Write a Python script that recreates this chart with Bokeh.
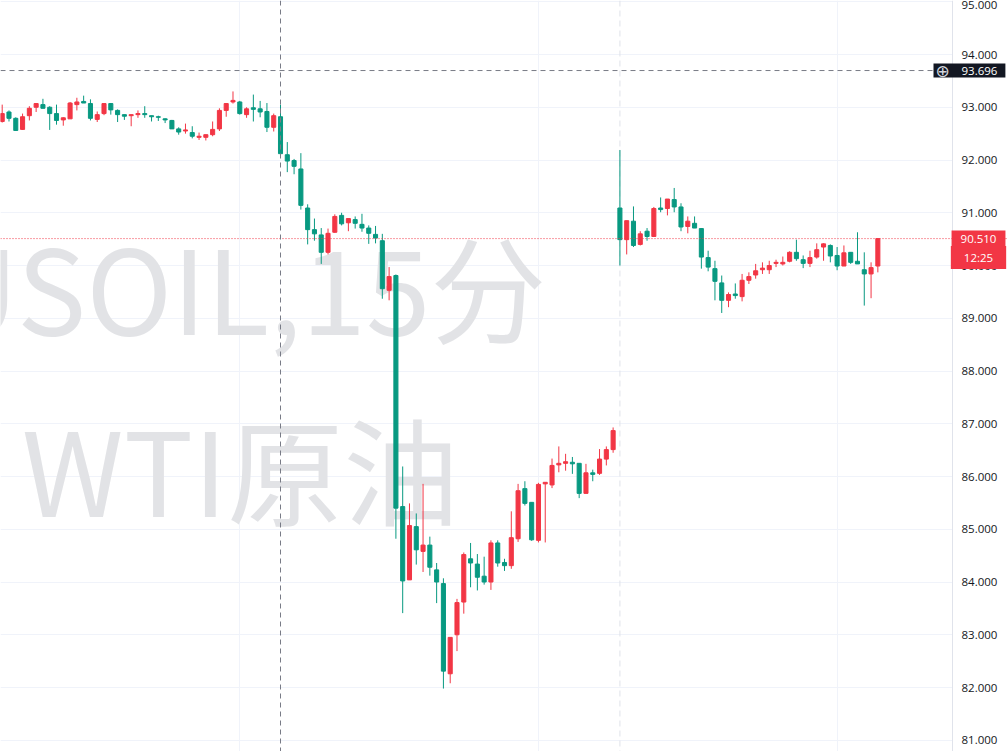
from bokeh.plotting import figure
from bokeh.models import Span, Label, FixedTicker, Range1d, PrintfTickFormatter, ColumnDataSource, BoxAnnotation
from bokeh.embed import file_html
from bokeh.resources import INLINE

# ---------------- data (USOIL 15-minute candles) ----------------
opens = [92.73, 92.91, 92.79, 92.58, 92.84, 93.00, 93.05, 93.00, 92.88, 92.76,
         92.78, 93.05, 93.11, 93.07, 92.77, 92.88, 93.07, 92.94, 92.86, 92.84,
         92.86, 92.88, 92.84, 92.82, 92.78, 92.75, 92.59, 92.55, 92.52, 92.43,
         92.43, 92.48, 92.59, 92.94, 93.10, 93.10, 92.86, 92.99, 92.97, 92.92,
         92.62, 92.82, 92.10, 91.99, 91.83, 91.09, 90.68, 90.58, 90.25, 90.63,
         90.95, 90.81, 90.87, 90.78, 90.71, 90.59, 90.47, 89.53, 89.81, 85.43,
         84.04, 85.05, 84.58, 84.70, 84.23, 83.97, 82.26, 83.00, 83.62, 84.44,
         84.34, 84.11, 84.00, 84.74, 84.37, 84.31, 84.82, 85.77, 85.51, 84.79,
         85.86, 85.84, 86.22, 86.25, 86.27, 86.25, 85.68, 86.07, 86.06, 86.33,
         86.51, 91.09, 90.49, 90.84, 90.40, 90.65, 90.55, 91.09, 91.08, 91.25,
         91.11, 90.74, 90.80, 90.70, 90.15, 89.94, 89.67, 89.34, 89.46, 89.41,
         89.72, 89.82, 89.92, 89.92, 90.04, 90.03, 90.08, 90.25, 90.11, 90.04,
         90.16, 90.35, 90.38, 90.19, 89.99, 90.25, 90.08, 89.92, 89.84, 89.99]
highs = [93.05, 92.94, 92.81, 92.88, 93.02, 93.08, 93.16, 93.02, 93.05, 92.81,
         93.10, 93.18, 93.22, 93.15, 92.92, 93.08, 93.08, 92.96, 92.86, 92.86,
         92.94, 93.02, 92.84, 92.84, 92.79, 92.76, 92.62, 92.69, 92.64, 92.52,
         92.48, 92.73, 92.98, 93.08, 93.30, 93.12, 93.00, 93.24, 93.12, 93.08,
         92.88, 93.05, 92.34, 92.02, 92.13, 91.16, 90.89, 90.71, 90.70, 90.97,
         91.00, 90.89, 90.93, 90.98, 90.76, 90.75, 90.60, 89.97, 89.83, 86.19,
         85.49, 85.30, 85.86, 84.86, 84.36, 84.07, 82.95, 83.68, 84.56, 84.74,
         84.53, 84.48, 84.79, 84.79, 84.44, 85.34, 85.86, 85.91, 85.51, 85.88,
         85.89, 86.34, 86.57, 86.43, 86.37, 86.25, 86.24, 86.13, 86.52, 86.57,
         86.93, 92.19, 90.85, 91.12, 90.65, 90.71, 91.11, 91.29, 91.26, 91.47,
         91.18, 90.93, 90.93, 90.71, 90.28, 90.09, 89.81, 89.49, 89.66, 89.84,
         89.87, 90.03, 90.06, 90.09, 90.11, 90.17, 90.27, 90.49, 90.19, 90.28,
         90.42, 90.42, 90.40, 90.35, 90.38, 90.25, 90.63, 90.25, 90.06, 90.51]
lows = [92.71, 92.73, 92.55, 92.57, 92.75, 92.91, 92.98, 92.57, 92.67, 92.65,
        92.78, 92.94, 93.08, 92.75, 92.72, 92.85, 92.86, 92.72, 92.76, 92.64,
        92.80, 92.80, 92.73, 92.74, 92.70, 92.59, 92.48, 92.50, 92.41, 92.38,
        92.37, 92.45, 92.55, 92.82, 93.07, 92.86, 92.80, 92.73, 92.81, 92.53,
        92.54, 92.10, 91.77, 91.73, 91.06, 90.40, 90.47, 90.03, 90.21, 90.62,
        90.76, 90.65, 90.70, 90.64, 90.41, 90.42, 89.37, 89.34, 84.82, 83.41,
        84.04, 84.33, 84.19, 84.12, 83.60, 81.98, 82.08, 82.69, 83.40, 83.90,
        83.84, 83.95, 83.85, 84.29, 84.21, 84.25, 84.76, 85.45, 84.78, 84.75,
        84.75, 85.78, 86.08, 86.11, 86.05, 85.59, 85.68, 85.91, 86.03, 86.21,
        86.45, 90.00, 90.21, 90.35, 90.38, 90.47, 90.54, 91.01, 90.95, 91.01,
        90.65, 90.61, 90.71, 89.94, 89.89, 89.34, 89.10, 89.21, 89.37, 89.32,
        89.65, 89.75, 89.84, 89.84, 89.97, 90.00, 90.06, 90.09, 89.95, 89.97,
        90.13, 90.09, 90.06, 89.91, 89.99, 90.03, 90.03, 89.24, 89.38, 89.87]
closes = [92.88, 92.79, 92.56, 92.82, 92.98, 93.07, 92.98, 92.88, 92.75, 92.80,
          93.08, 93.10, 93.08, 92.79, 92.86, 93.07, 92.95, 92.86, 92.83, 92.86,
          92.88, 92.86, 92.82, 92.81, 92.76, 92.59, 92.53, 92.57, 92.45, 92.45,
          92.48, 92.58, 92.94, 93.07, 93.13, 92.88, 92.97, 92.96, 92.91, 92.62,
          92.84, 92.12, 91.98, 91.88, 91.14, 90.68, 90.60, 90.25, 90.61, 90.93,
          90.79, 90.89, 90.80, 90.71, 90.61, 90.52, 89.56, 89.79, 85.40, 84.02,
          85.07, 84.61, 84.70, 84.28, 84.00, 82.31, 82.95, 83.61, 84.52, 84.36,
          84.09, 84.00, 84.74, 84.36, 84.31, 84.84, 85.73, 85.49, 84.80, 85.85,
          85.89, 86.21, 86.25, 86.28, 86.24, 85.68, 86.07, 86.04, 86.33, 86.51,
          86.87, 90.49, 90.85, 90.38, 90.60, 90.55, 91.08, 91.06, 91.26, 91.11,
          90.73, 90.84, 90.71, 90.16, 89.97, 89.70, 89.34, 89.45, 89.43, 89.72,
          89.79, 89.90, 89.95, 90.00, 90.06, 90.06, 90.25, 90.13, 90.04, 90.15,
          90.30, 90.41, 90.18, 89.99, 90.24, 90.06, 90.03, 89.84, 89.96, 90.51]

price_ticks = list(range(81, 96))
time_grid_idx = [35, 79, 123]
session_break_idx = 91
cross_idx = 41
cross_price = 93.696
last_price = 90.510
countdown = "12:25"
watermark_lines = ["USOIL,15分", "WTI原油"]

UP = "#f23645"
DOWN = "#089981"

# ---------------- pixel calibration (page coordinates) ----------------
X0_PX, DX_PX = 1.7, 6.788          # candle 0 centre, candle spacing
Y_REF_PRICE, Y_REF_PX, PPU = 94.0, 54.0, 52.75
W, H = 1007, 751
SCALE_X = 952                       # left edge of the price scale


def px_to_idx(px):
    return (px - X0_PX) / DX_PX


def px_to_price(py):
    return Y_REF_PRICE - (py - Y_REF_PX) / PPU


idx = list(range(len(opens)))
colors = [UP if c >= o else DOWN for o, c in zip(opens, closes)]
src = ColumnDataSource(dict(
    x=idx, o=opens, h=highs, l=lows, c=closes, color=colors,
    top=[max(o, c) for o, c in zip(opens, closes)],
    bottom=[min(o, c) for o, c in zip(opens, closes)],
))

p = figure(
    frame_width=W, frame_height=H,
    x_range=Range1d(px_to_idx(0), px_to_idx(W)),
    y_range=Range1d(px_to_price(H), px_to_price(0)),
    x_axis_location=None, y_axis_location="right",
    min_border_left=0, min_border_top=0, min_border_bottom=0, min_border_right=0,
    output_backend="svg", toolbar_location=None,
    background_fill_color="white", border_fill_color="white",
)
p.outline_line_color = None

# grids
p.ygrid.ticker = FixedTicker(ticks=price_ticks)
p.ygrid.grid_line_color = "#f0f3fa"
p.xgrid.ticker = FixedTicker(ticks=time_grid_idx)
p.xgrid.grid_line_color = "#f0f3fa"

# price scale background (hides grid inside scale area)
p.add_layout(BoxAnnotation(left=px_to_idx(SCALE_X), fill_color="white", fill_alpha=1.0,
                           line_color=None, level="glyph"))

# price axis, pinned at the scale edge
ax = p.yaxis[0]
ax.fixed_location = px_to_idx(SCALE_X)
ax.ticker = FixedTicker(ticks=price_ticks)
ax.formatter = PrintfTickFormatter(format="%.3f")
ax.major_tick_line_color = None
ax.minor_tick_line_color = None
ax.major_tick_in = 0
ax.major_tick_out = 0
ax.axis_line_color = "#e0e3eb"
ax.major_label_text_color = "#131722"
ax.major_label_text_font = "Open Sans"
ax.major_label_text_font_size = "11.5px"
ax.major_label_standoff = 9

# watermark
wm_x = px_to_idx(240)
for line, anchor_px in zip(watermark_lines, [283, 465]):
    p.add_layout(Label(x=wm_x, y=px_to_price(anchor_px), text=line,
                       text_align="center", text_baseline="alphabetic",
                       text_font="Noto Sans CJK SC", text_font_size="116px",
                       text_color="#e2e3e6", level="underlay"))

# session break
p.add_layout(Span(location=session_break_idx, dimension="height",
                  line_color="#dfe2ea", line_dash="6 4", line_width=1, level="underlay"))

# candles
p.segment(x0="x", y0="h", x1="x", y1="l", color="color", line_width=1, source=src)
p.vbar(x="x", top="top", bottom="bottom", width=0.6, fill_color="color",
       line_color="color", line_width=1, source=src)

# last price line
p.add_layout(Span(location=last_price, dimension="width",
                  line_color=UP, line_dash="1 2", line_width=1))

# crosshair
p.add_layout(Span(location=cross_idx, dimension="height",
                  line_color="#787b86", line_dash="5 4", line_width=1))
p.add_layout(Span(location=cross_price, dimension="width",
                  line_color="#787b86", line_dash="5 4", line_width=1))

# crosshair price label (box starts at x=933 px)
p.add_layout(Label(x=px_to_idx(933), y=cross_price, text=f"{cross_price:.3f}",
                   text_align="left", text_baseline="middle",
                   text_font="Open Sans", text_font_size="11.5px", text_color="white",
                   background_fill_color="#131722",
                   padding=dict(left=28, right=8, top=3, bottom=3)))
p.add_layout(Label(x=px_to_idx(942), y=cross_price, text="⊕",
                   text_align="center", text_baseline="middle",
                   text_font="DejaVu Sans", text_font_size="17px", text_color="#d1d4dc"))

# last price label + countdown
p.add_layout(Label(x=px_to_idx(978), y=last_price, text=f"{last_price:.3f}",
                   text_align="center", text_baseline="middle",
                   text_font="Open Sans", text_font_size="11.5px", text_color="white",
                   background_fill_color=UP,
                   padding=dict(left=9, right=9, top=4, bottom=4)))
p.add_layout(Label(x=px_to_idx(978), y=last_price - 19 / PPU, text=countdown,
                   text_align="center", text_baseline="middle",
                   text_font="Open Sans", text_font_size="11.5px", text_color="white",
                   background_fill_color=UP,
                   padding=dict(left=13, right=13, top=4, bottom=4)))

open("out.html", "w").write(file_html(p, INLINE))
